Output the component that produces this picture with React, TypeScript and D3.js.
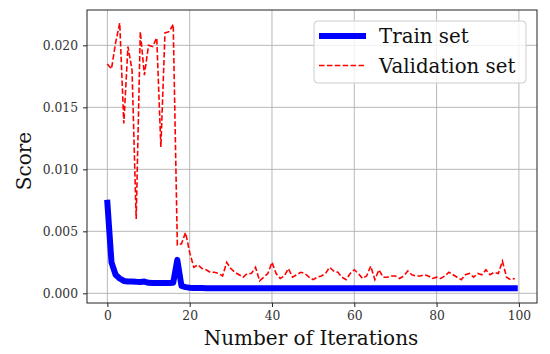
import React, { useEffect, useRef } from "react";
import * as d3 from "d3";

// iterations 0..99
const iterations: number[] = d3.range(0, 100);

const trainScores: number[] = [
  0.0073, 0.0025, 0.0015, 0.0012, 0.001, 0.00095, 0.00095, 0.00093, 0.00092, 0.00095,
  0.00085, 0.00083, 0.00083, 0.00083, 0.00083, 0.00083, 0.00085, 0.0027, 0.0006, 0.0005,
  0.00045, 0.00043, 0.00042, 0.00042, 0.00041, 0.00041, 0.00041, 0.0004, 0.0004, 0.0004,
  0.0004, 0.0004, 0.0004, 0.0004, 0.0004, 0.0004, 0.0004, 0.0004, 0.0004, 0.0004,
  0.0004, 0.0004, 0.0004, 0.0004, 0.0004, 0.0004, 0.0004, 0.0004, 0.0004, 0.0004,
  0.0004, 0.0004, 0.0004, 0.0004, 0.0004, 0.0004, 0.0004, 0.0004, 0.0004, 0.0004,
  0.0004, 0.0004, 0.0004, 0.0004, 0.0004, 0.0004, 0.0004, 0.0004, 0.0004, 0.0004,
  0.0004, 0.0004, 0.0004, 0.0004, 0.0004, 0.0004, 0.0004, 0.0004, 0.0004, 0.0004,
  0.0004, 0.0004, 0.0004, 0.0004, 0.0004, 0.0004, 0.0004, 0.0004, 0.0004, 0.0004,
  0.0004, 0.0004, 0.0004, 0.0004, 0.0004, 0.0004, 0.0004, 0.0004, 0.0004, 0.0004,
];

const validationScores: number[] = [
  0.0185, 0.0181, 0.0202, 0.0218, 0.0137, 0.0199, 0.018, 0.006, 0.0211, 0.0176,
  0.02, 0.0199, 0.0206, 0.0118, 0.021, 0.0211, 0.0217, 0.0039, 0.004, 0.0049,
  0.0033, 0.0021, 0.0023, 0.002, 0.0019, 0.0017, 0.0017, 0.0016, 0.0014, 0.0025,
  0.002, 0.0017, 0.0015, 0.0013, 0.0016, 0.0016, 0.0021, 0.001, 0.0013, 0.0016,
  0.0025, 0.0016, 0.0012, 0.0014, 0.002, 0.0013, 0.0015, 0.0017, 0.0016, 0.0013,
  0.0011, 0.0013, 0.0014, 0.0016, 0.0021, 0.0018, 0.0017, 0.0013, 0.0011, 0.0016,
  0.0019, 0.0016, 0.0012, 0.0014, 0.0022, 0.0011, 0.0019, 0.0013, 0.0013, 0.0014,
  0.0014, 0.0012, 0.0014, 0.0018, 0.0015, 0.0014, 0.0014, 0.0015, 0.0014, 0.0012,
  0.0013, 0.0012, 0.0014, 0.0017, 0.0015, 0.0013, 0.0011, 0.0015, 0.0016, 0.0013,
  0.0016, 0.0015, 0.0019, 0.0015, 0.0017, 0.0016, 0.0026, 0.0013, 0.0011, 0.0012,
];

const xTicks: number[] = [0, 20, 40, 60, 80, 100];
const yTicks: number[] = [0, 0.005, 0.01, 0.015, 0.02];
const seriesNames: string[] = ["Train set", "Validation set"];

const FONT = "'DejaVu Serif', serif";

const App: React.FC = () => {
  const ref = useRef<SVGSVGElement | null>(null);

  useEffect(() => {
    const width = 550;
    const height = 354;
    const left = 87, right = 537, top = 10, bottom = 303;

    const svg = d3.select(ref.current);
    svg.selectAll("*").remove();
    svg.attr("width", width).attr("height", height);

    svg.append("rect").attr("width", width).attr("height", height).attr("fill", "#fff");

    const x = d3.scaleLinear().domain([-4.95, 104.4]).range([left, right]);
    const y = d3.scaleLinear().domain([-0.00078, 0.02285]).range([bottom, top]);

    // grid
    const grid = svg.append("g");
    grid.selectAll(".gx").data(xTicks).enter().append("line")
      .attr("x1", d => x(d)).attr("x2", d => x(d))
      .attr("y1", top).attr("y2", bottom)
      .attr("stroke", "#b0b0b0").attr("stroke-width", 0.9);
    grid.selectAll(".gy").data(yTicks).enter().append("line")
      .attr("y1", d => y(d)).attr("y2", d => y(d))
      .attr("x1", left).attr("x2", right)
      .attr("stroke", "#b0b0b0").attr("stroke-width", 0.9);

    // lines
    const pts = (vals: number[]) => iterations.map((it, i) => [it, vals[i]] as [number, number]);
    const line = d3.line<[number, number]>().x(d => x(d[0])).y(d => y(d[1]));

    svg.append("path").datum(pts(trainScores)).attr("d", line)
      .attr("fill", "none").attr("stroke", "#0000ff").attr("stroke-width", 6)
      .attr("stroke-linejoin", "round").attr("stroke-linecap", "square");

    svg.append("path").datum(pts(validationScores)).attr("d", line)
      .attr("fill", "none").attr("stroke", "#ff0000").attr("stroke-width", 1.6)
      .attr("stroke-dasharray", "5.5,2.4");

    // frame
    svg.append("rect").attr("x", left).attr("y", top)
      .attr("width", right - left).attr("height", bottom - top)
      .attr("fill", "none").attr("stroke", "#222").attr("stroke-width", 1);

    // x axis
    const xAxis = d3.axisBottom(x).tickValues(xTicks).tickSize(4).tickPadding(4)
      .tickFormat(d => String(d));
    const gx = svg.append("g").attr("transform", `translate(0,${bottom})`).call(xAxis);
    gx.select(".domain").remove();
    gx.selectAll("line").attr("stroke", "#222");
    gx.selectAll("text").attr("font-family", FONT).attr("font-size", 12.3).attr("fill", "#333");

    const yAxis = d3.axisLeft(y).tickValues(yTicks).tickSize(4).tickPadding(5)
      .tickFormat(d => d3.format(".3f")(d as number));
    const gy = svg.append("g").attr("transform", `translate(${left},0)`).call(yAxis);
    gy.select(".domain").remove();
    gy.selectAll("line").attr("stroke", "#222");
    gy.selectAll("text").attr("font-family", FONT).attr("font-size", 12.3).attr("fill", "#333");

    // axis labels
    svg.append("text").attr("x", 311).attr("y", 345)
      .attr("text-anchor", "middle").attr("font-family", FONT).attr("font-size", 20)
      .attr("fill", "#111").text("Number of Iterations");
    svg.append("text").attr("transform", `translate(31,161) rotate(-90)`)
      .attr("text-anchor", "middle").attr("font-family", FONT).attr("font-size", 20)
      .attr("fill", "#111").text("Score");

    // legend
    const lg = svg.append("g");
    lg.append("rect").attr("x", 314).attr("y", 21).attr("width", 212).attr("height", 62)
      .attr("rx", 4).attr("fill", "#fff").attr("fill-opacity", 0.8)
      .attr("stroke", "#cccccc").attr("stroke-width", 1);
    const styles = [
      { color: "#0000ff", width: 6, dash: null as string | null },
      { color: "#ff0000", width: 1.6, dash: "5.5,2.4" },
    ];
    seriesNames.forEach((name, i) => {
      const cy = 36 + i * 29.5;
      const l = lg.append("line").attr("x1", 319).attr("x2", 366)
        .attr("y1", cy).attr("y2", cy)
        .attr("stroke", styles[i].color).attr("stroke-width", styles[i].width);
      if (styles[i].dash) l.attr("stroke-dasharray", styles[i].dash);
      lg.append("text").attr("x", 379).attr("y", cy + 7)
        .attr("font-family", FONT).attr("font-size", 19.8).attr("fill", "#111").text(name);
    });
  }, []);

  return <svg ref={ref} style={{ position: "absolute", left: 0, top: 0 }}></svg>;
};

export default App;
